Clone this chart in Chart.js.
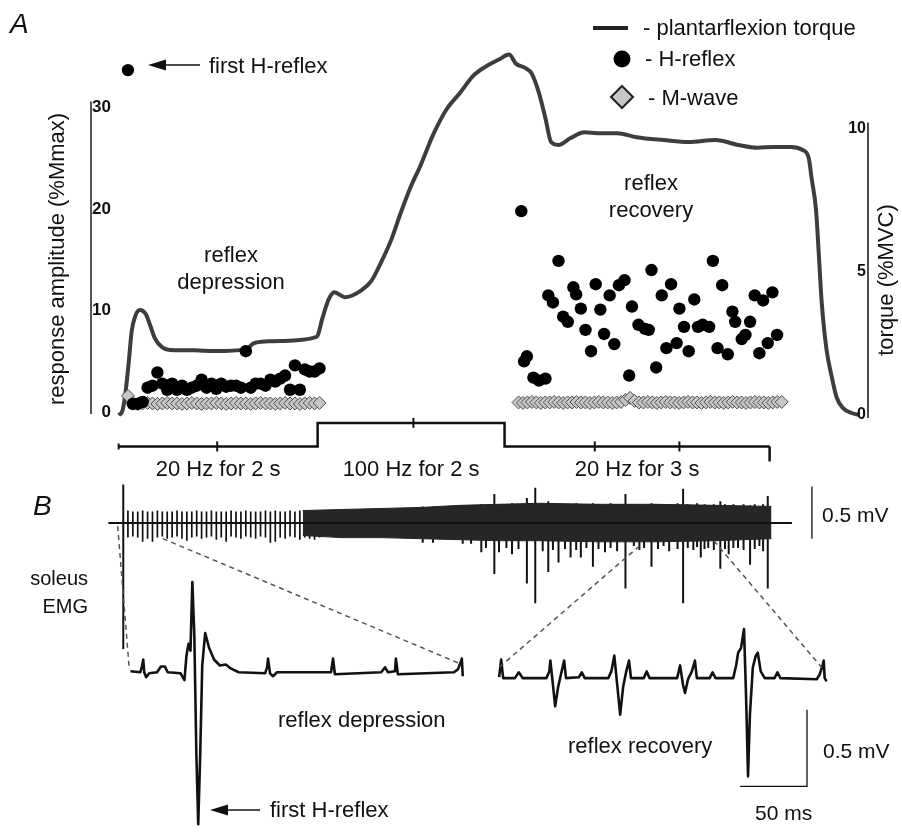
<!DOCTYPE html>
<html>
<head>
<meta charset="utf-8">
<script src="https://cdn.jsdelivr.net/npm/chart.js@4.4.1/dist/chart.umd.min.js"></script>
<style>
  html, body { margin: 0; padding: 0; background: #fff; }
  canvas { display: block; }
</style>
</head>
<body>
<canvas id="fig" width="902" height="833"></canvas>
<script>
const W = 902, H = 833;
const INK = '#111';
const FONT = '"Liberation Sans", Arial, sans-serif';
const NARROW = '"Liberation Sans Narrow", "Liberation Sans", Arial, sans-serif';

// ---- panel A ----
// plantarflexion torque (time in s from train onset, %MVC)
const torqueT = [0, 0.04, 0.07, 0.11, 0.14, 0.18, 0.23, 0.29, 0.34, 0.39, 0.47, 0.60, 0.81, 1.03, 1.37, 1.45, 1.61, 1.87, 2.11, 2.14,
  2.19, 2.26, 2.32, 2.43, 2.61, 2.72, 2.82, 2.93, 3.03, 3.14, 3.25, 3.38, 3.53, 3.67, 3.81, 3.95, 4.09, 4.20, 4.27, 4.38,
  4.44, 4.52, 4.59, 4.65, 4.73, 4.86, 5.01, 5.15, 5.36, 5.57, 5.86, 6.13, 6.42, 6.66, 6.87, 7.05, 7.23, 7.35, 7.42, 7.45,
  7.50, 7.53, 7.56, 7.61, 7.67, 7.72, 7.79, 7.88, 7.97];
const torque = [0, 0.14, 0.68, 1.88, 2.91, 3.46, 3.66, 3.53, 3.12, 2.67, 2.36, 2.26, 2.26, 2.23, 2.29, 2.50, 2.57, 2.60, 2.71, 2.77,
  3.36, 4.04, 4.28, 4.11, 4.35, 4.69, 5.31, 6.10, 7.02, 7.95, 8.73, 9.76, 10.68, 11.23, 11.82, 12.16, 12.40, 12.57, 12.26, 12.09,
  11.92, 11.23, 10.34, 9.52, 9.42, 9.66, 9.86, 9.83, 9.83, 9.69, 9.59, 9.52, 9.59, 9.42, 9.32, 9.35, 9.35, 9.25, 8.97, 8.29,
  7.12, 5.55, 3.94, 2.33, 1.30, 0.62, 0.24, 0.07, 0];

// first 20 Hz train: one response per stimulus (%Mmax)
const depFirst = 0.10, depLast = 2.16;
const depH = [33.7, 0.8, 0.8, 1.0, 2.4, 2.6, 3.9, 2.8, 2.2, 2.8, 2.2, 2.6, 2.2, 2.4, 2.6, 3.2, 2.4, 2.8, 2.3, 2.8,
  2.5, 2.6, 2.6, 2.4, 6.0, 2.4, 2.8, 2.8, 2.6, 3.2, 3.0, 3.3, 3.6, 2.2, 4.6, 2.2, 4.2, 4.0, 4.0, 4.3];
const depM = [1.6, 0.9, 0.8, 0.85, 0.9, 0.85, 0.8, 0.85, 0.9, 0.85, 0.85, 0.8, 0.85, 0.9, 0.85, 0.8, 0.85, 0.85, 0.9, 0.85,
  0.8, 0.85, 0.9, 0.85, 0.85, 0.8, 0.85, 0.9, 0.85, 0.85, 0.8, 0.85, 0.9, 0.85, 0.85, 0.8, 0.85, 0.9, 0.85, 0.9];

// second 20 Hz train (after the 100 Hz burst)
const recHT = [4.33, 4.36, 4.39, 4.46, 4.52, 4.59, 4.62, 4.67, 4.73, 4.78, 4.83, 4.89, 4.92, 4.97, 5.02, 5.08, 5.13, 5.18, 5.22, 5.28,
  5.33, 5.38, 5.44, 5.49, 5.52, 5.59, 5.66, 5.70, 5.73, 5.78, 5.84, 5.89, 5.94, 6.00, 6.03, 6.08, 6.13, 6.19, 6.23, 6.28,
  6.35, 6.39, 6.44, 6.49, 6.55, 6.60, 6.63, 6.70, 6.74, 6.79, 6.84, 6.89, 6.93, 6.98, 7.03, 7.08];
const recH = [19.8, 5.0, 5.5, 3.4, 3.1, 3.3, 11.5, 10.8, 14.9, 9.4, 8.9, 12.3, 11.6, 10.2, 8.1, 6.0, 12.6, 10.1, 7.7, 11.5,
  6.7, 12.5, 13.0, 3.6, 10.4, 8.6, 8.2, 8.1, 14.0, 4.4, 11.5, 6.3, 12.6, 6.8, 10.2, 8.4, 6.0, 11.1, 8.4, 8.6,
  8.4, 14.9, 6.3, 12.5, 5.7, 9.9, 8.9, 7.2, 7.6, 8.9, 11.5, 5.8, 11.0, 6.8, 11.8, 7.6];
const recFirst = 4.30, recLast = 7.13;
const recM = [0.95, 0.9, 0.95, 1.0, 0.95, 0.9, 0.95, 0.95, 1.0, 0.95, 0.9, 0.95, 0.95, 1.0, 0.95, 0.95, 0.9, 0.95, 1.0, 0.95,
  0.95, 0.9, 0.95, 1.0, 1.2, 1.4, 1.1, 0.95, 0.95, 1.0, 0.95, 0.9, 0.95, 1.0, 0.95, 0.95, 0.9, 0.95, 1.0, 0.95,
  0.95, 0.9, 0.95, 1.0, 0.95, 0.95, 0.9, 0.95, 1.0, 0.95, 0.95, 0.9, 0.95, 1.0, 0.95, 0.95, 0.9, 0.95, 1.0, 1.0];

// stimulation protocol
const stimT = [0, 2.14, 4.15, 7.0];
const stimHz = [20, 100, 20, 20];
const stimMarks = [1.06, 3.17, 5.12, 6.03];
const stimLabels = ['20 Hz for 2 s', '100 Hz for 2 s', '20 Hz for 3 s'];
const ampTicks = [0, 10, 20, 30];
const torqueTicks = [0, 5, 10];

// ---- panel B ----
// raw soleus EMG (mV): stimulus-locked deflections of the first train
const combHi = [0.12, 0.11, 0.11, 0.12, 0.11, 0.11, 0.12, 0.11, 0.11, 0.11, 0.12, 0.11, 0.11, 0.11, 0.12, 0.11, 0.11, 0.12, 0.11, 0.11,
  0.11, 0.12, 0.11, 0.11, 0.12, 0.11, 0.11, 0.11, 0.12, 0.11, 0.12, 0.11, 0.11, 0.12, 0.11, 0.12, 0.12, 0.11, 0.12, 0.12];
const combLo = [-0.14, -0.13, -0.14, -0.18, -0.15, -0.18, -0.14, -0.13, -0.15, -0.14, -0.13, -0.15, -0.17, -0.14, -0.13, -0.15, -0.14, -0.13, -0.16, -0.14,
  -0.18, -0.13, -0.14, -0.15, -0.13, -0.14, -0.15, -0.13, -0.14, -0.19, -0.18, -0.14, -0.15, -0.13, -0.14, -0.16, -0.14, -0.15, -0.16, -0.14];
// envelope of the dense part of the record
const bandT = [1.98, 2.40, 2.82, 3.25, 3.67, 4.09, 4.52, 5.15, 5.78, 6.42, 7.02];
const bandHi = [0.12, 0.13, 0.14, 0.15, 0.17, 0.18, 0.19, 0.18, 0.18, 0.17, 0.16];
const bandLo = [-0.12, -0.14, -0.14, -0.15, -0.16, -0.17, -0.17, -0.18, -0.18, -0.17, -0.15];
// individual large deflections
const spkT = [0.05, 3.27, 3.38, 3.70, 3.79, 3.90, 3.95, 4.04, 4.09, 4.17, 4.23, 4.30, 4.39, 4.48, 4.56, 4.62, 4.67, 4.73, 4.80, 4.86, 4.92,
  4.97, 5.03, 5.10, 5.16, 5.23, 5.29, 5.36, 5.45, 5.54, 5.60, 5.65, 5.73, 5.80, 5.86, 5.92, 6.01, 6.07, 6.12, 6.18, 6.22,
  6.26, 6.30, 6.34, 6.40, 6.47, 6.52, 6.56, 6.61, 6.66, 6.72, 6.79, 6.84, 6.89, 6.93, 6.98];
const spkHi = [0.37, 0.16, 0.16, 0.17, 0.17, 0.18, 0.17, 0.28, 0.18, 0.18, 0.19, 0.18, 0.24, 0.34, 0.19, 0.21, 0.18, 0.16, 0.18, 0.16, 0.19,
  0.16, 0.18, 0.19, 0.18, 0.16, 0.19, 0.18, 0.28, 0.14, 0.18, 0.14, 0.19, 0.18, 0.16, 0.18, 0.19, 0.33, 0.18, 0.16, 0.19,
  0.16, 0.18, 0.16, 0.18, 0.21, 0.18, 0.16, 0.18, 0.16, 0.18, 0.17, 0.18, 0.16, 0.18, 0.26];
const spkLo = [-1.21, -0.19, -0.19, -0.20, -0.20, -0.28, -0.24, -0.49, -0.28, -0.24, -0.30, -0.25, -0.58, -0.77, -0.27, -0.47, -0.26, -0.38, -0.25, -0.33, -0.26,
  -0.33, -0.24, -0.42, -0.25, -0.28, -0.24, -0.27, -0.63, -0.22, -0.26, -0.24, -0.42, -0.25, -0.22, -0.27, -0.25, -0.77, -0.24, -0.26, -0.23,
  -0.33, -0.25, -0.24, -0.26, -0.44, -0.25, -0.30, -0.24, -0.24, -0.26, -0.40, -0.25, -0.22, -0.27, -0.63];
const emgSpan = [-0.11, 7.24];

// expanded sweeps (ms, mV)
const depSweepT = [0, 7.4, 8.8, 9.6, 10.3, 11.8, 14.0, 19.9, 22.8, 25.7, 27.9, 37.5, 40.4, 41.9, 43.4, 44.9, 46.3, 47.8, 49.3, 50.7,
  52.2, 53.7, 55.9, 58.8, 62.5, 66.9, 71.3, 75.0, 80.9, 100.7, 102.2, 102.9, 104.4, 106.6, 109.6, 150.0, 151.5, 152.9, 187.5, 190.4,
  192.6, 197.8, 198.5, 200.0, 241.9, 244.9, 247.1, 247.8, 248.5];
const depSweep = [0, -0.006, 0.038, 0.077, -0.006, -0.038, -0.013, -0.006, 0.032, 0.032, -0.006, -0.013, -0.058, 0.103, 0.179, 0.135, 0.583, 0.231, -0.538, -1.0,
  -0.538, 0.038, 0.25, 0.154, 0.077, 0.038, 0.045, 0.019, -0.006, -0.013, 0.026, 0.083, -0.013, -0.032, -0.006, -0.006, 0.083, -0.019, -0.006, 0.026,
  -0.006, 0, 0.083, -0.019, -0.006, 0.013, 0.064, 0.083, -0.032];
const recSweepT = [-1.5, 0, 1.5, 10.3, 13.2, 16.2, 33.8, 36.0, 36.8, 38.2, 40.4, 42.6, 44.9, 47.1, 48.5, 58.1, 60.3, 62.5, 80.1, 82.4,
  84.6, 86.8, 89.0, 91.2, 93.4, 95.6, 97.1, 106.6, 108.8, 111.0, 131.6, 133.8, 136.0, 137.5, 139.7, 142.6, 144.9, 146.3, 155.9, 158.1,
  160.3, 173.5, 175.7, 177.2, 179.4, 181.6, 183.1, 184.6, 186.0, 188.2, 190.4, 191.9, 194.1, 197.1, 204.4, 206.6, 208.8, 236.0, 238.2, 240.4,
  241.2, 241.9, 243.4];
const recSweep = [0, 0.115, -0.006, -0.006, 0.032, -0.006, -0.006, 0.038, 0.109, -0.006, -0.19, -0.064, 0.026, 0.109, -0.006, 0, 0.032, -0.006, -0.006, 0.038,
  0.141, -0.051, -0.244, -0.064, 0.032, 0.109, -0.006, -0.006, 0.038, -0.006, -0.006, 0.077, -0.051, -0.103, -0.013, 0.038, 0.109, -0.006, -0.006, 0.032,
  -0.006, -0.006, 0.077, 0.160, 0.192, 0.314, -0.115, -0.647, -0.244, 0.064, 0.141, 0.160, 0.038, -0.006, -0.006, 0.032, -0.006, -0.013, 0.019, 0.077,
  0.109, -0.006, -0.026];

// ---- helpers ----
const xy = (xs, ys) => xs.map((x, i) => ({ x, y: ys[i] }));
const train = (t0, t1, n) => Array.from({ length: n }, (_, i) => t0 + (t1 - t0) * i / (n - 1));
const ticks = (ts, lo, hi) => ts.flatMap((t, i) => [{ x: t, y: lo[i] }, { x: t, y: hi[i] }, { x: t, y: null }]);

// scale bounds that put value v0 at pixel p0 and v1 at pixel p1
function span(v0, p0, v1, p1, size) {
  const k = (p1 - p0) / (v1 - v0);
  const a = v0 - p0 / k, b = v0 + (size - p0) / k;
  return { min: Math.min(a, b), max: Math.max(a, b) };
}
const hidden = (ext) => Object.assign({ type: 'linear', display: false }, ext);

const depTimes = train(depFirst, depLast, depH.length);
const recMTimes = train(recFirst, recLast, recM.length);

const line = (data, x, y, extra) => Object.assign({
  type: 'line', data, xAxisID: x, yAxisID: y, borderColor: INK, borderWidth: 2.2,
  pointRadius: 0, tension: 0, fill: false, spanGaps: false
}, extra);

const datasets = [
  // H-reflex
  line(xy(depTimes, depH), 'x', 'yA', { showLine: false, pointRadius: 6.2, pointBackgroundColor: '#000', pointBorderWidth: 0, order: 1 }),
  line(xy(recHT, recH), 'x', 'yA', { showLine: false, pointRadius: 6.2, pointBackgroundColor: '#000', pointBorderWidth: 0, order: 1 }),
  // M-wave
  line(xy(depTimes, depM), 'x', 'yA', { showLine: false, pointStyle: 'rectRot', pointRadius: 6.5, pointBackgroundColor: '#c6c6c6', pointBorderColor: '#4d4d4d', pointBorderWidth: 1, order: 2 }),
  line(xy(recMTimes, recM), 'x', 'yA', { showLine: false, pointStyle: 'rectRot', pointRadius: 6.5, pointBackgroundColor: '#c6c6c6', pointBorderColor: '#4d4d4d', pointBorderWidth: 1, order: 2 }),
  // torque
  line(xy(torqueT, torque), 'x', 'yT', { borderColor: '#3d3d3d', borderWidth: 4, cubicInterpolationMode: 'monotone', borderJoinStyle: 'round', order: 3 }),
  // stimulation frequency
  line(xy(stimT, stimHz), 'x', 'yS', { stepped: 'before', borderWidth: 2.5, order: 3 }),
  // raw EMG
  line(xy(emgSpan, [0, 0]), 'x', 'yE', { borderWidth: 2, order: 4 }),
  line(xy(bandT, bandHi), 'x', 'yE', { borderWidth: 1, borderColor: '#222', fill: '+1', backgroundColor: '#262626', order: 4 }),
  line(xy(bandT, bandLo), 'x', 'yE', { borderWidth: 1, borderColor: '#222', order: 4 }),
  line(ticks(depTimes, combLo, combHi), 'x', 'yE', { borderWidth: 1.7, order: 4 }),
  line(ticks(spkT, spkLo, spkHi), 'x', 'yE', { borderWidth: 2, order: 4 }),
  line([{ x: 7.455, y: -0.15 }, { x: 7.455, y: 0.35 }], 'x', 'yE', { borderWidth: 1.3, order: 4 }),
  // expanded sweeps
  line(xy(depSweepT, depSweep), 'xL', 'yL', { borderWidth: 2.6, borderJoinStyle: 'round', order: 4 }),
  line(xy(recSweepT, recSweep), 'xR', 'yR', { borderWidth: 2.6, borderJoinStyle: 'round', order: 4 }),
  line([{ x: 178.7, y: -0.712 }, { x: 228.7, y: -0.712 }, { x: 228.7, y: -0.212 }], 'xR', 'yR', { borderWidth: 1.3, order: 4 })
];

function text(ctx, str, x, y, font, align = 'left', base = 'alphabetic', rot = 0) {
  ctx.save();
  ctx.translate(x, y);
  if (rot) ctx.rotate(rot);
  ctx.font = font;
  ctx.textAlign = align;
  ctx.textBaseline = base;
  ctx.fillText(str, 0, 0);
  ctx.restore();
}
function seg(ctx, x0, y0, x1, y1, w, color = INK, dash = []) {
  ctx.save();
  ctx.strokeStyle = color;
  ctx.lineWidth = w;
  ctx.setLineDash(dash);
  ctx.beginPath();
  ctx.moveTo(x0, y0);
  ctx.lineTo(x1, y1);
  ctx.stroke();
  ctx.restore();
}
function arrowLeft(ctx, tip, tail, y) {
  seg(ctx, tip + 12, y, tail, y, 1.6);
  ctx.beginPath();
  ctx.moveTo(tip, y);
  ctx.lineTo(tip + 18, y - 5.5);
  ctx.lineTo(tip + 18, y + 5.5);
  ctx.closePath();
  ctx.fill();
}
const hzAt = (t) => {
  let v = stimHz[0];
  for (let i = 1; i < stimT.length; i++) if (t >= stimT[i]) v = stimHz[i];
  return v;
};

const overlay = {
  id: 'overlay',
  afterDatasetsDraw(chart) {
    const { ctx, scales: s } = chart;
    ctx.save();
    ctx.fillStyle = INK;

    // response amplitude axis (left) and torque axis (right)
    seg(ctx, 91, s.yA.getPixelForValue(30.6), 91, s.yA.getPixelForValue(-0.2), 2, '#555');
    ampTicks.forEach(v => text(ctx, String(v), 111, s.yA.getPixelForValue(v), 'bold 17px ' + NARROW, 'right', 'middle'));
    seg(ctx, 868, s.yT.getPixelForValue(10.2), 868, s.yT.getPixelForValue(-0.1), 1.5);
    torqueTicks.forEach(v => text(ctx, String(v), 866, s.yT.getPixelForValue(v), 'bold 16px ' + NARROW, 'right', 'middle'));
    text(ctx, 'response amplitude (%Mmax)', 58, 259, '22px ' + FONT, 'center', 'middle', -Math.PI / 2);
    text(ctx, 'torque (%MVC)', 887, 280, '22px ' + FONT, 'center', 'middle', -Math.PI / 2);

    // stimulation protocol marks and labels
    const t0 = s.x.getPixelForValue(stimT[0]);
    const tEnd = s.x.getPixelForValue(stimT[stimT.length - 1]);
    const base = s.yS.getPixelForValue(stimHz[0]);
    seg(ctx, t0, base - 3, t0, base + 3, 2);
    seg(ctx, tEnd, base, tEnd, base + 15, 2.5);
    stimMarks.forEach(t => {
      const px = s.x.getPixelForValue(t), py = s.yS.getPixelForValue(hzAt(t));
      seg(ctx, px, py - 5, px, py + 5, 2);
    });
    for (let i = 0; i < stimLabels.length; i++) {
      const mid = s.x.getPixelForValue((stimT[i] + stimT[i + 1]) / 2);
      text(ctx, stimLabels[i], mid, 476, '22px ' + FONT, 'center');
    }

    // panel letters and labels
    text(ctx, 'A', 10, 33, 'italic 28px ' + FONT);
    text(ctx, 'B', 33, 515, 'italic 28px ' + FONT);
    arrowLeft(ctx, 148, 200, 65);
    text(ctx, 'first H-reflex', 209, 73, '22px ' + FONT);
    text(ctx, 'reflex', 231, 262, '22px ' + FONT, 'center');
    text(ctx, 'depression', 231, 289, '22px ' + FONT, 'center');
    text(ctx, 'reflex', 651, 190, '22px ' + FONT, 'center');
    text(ctx, 'recovery', 651, 217, '22px ' + FONT, 'center');

    // key
    seg(ctx, 593, 28, 628, 28, 4, '#222');
    text(ctx, '- plantarflexion torque', 643, 35, '22px ' + FONT);
    ctx.beginPath(); ctx.arc(622, 59, 8.5, 0, Math.PI * 2); ctx.fillStyle = '#000'; ctx.fill();
    ctx.fillStyle = INK;
    text(ctx, '- H-reflex', 645, 66, '22px ' + FONT);
    ctx.beginPath();
    ctx.moveTo(622, 86); ctx.lineTo(633, 97); ctx.lineTo(622, 108); ctx.lineTo(611, 97); ctx.closePath();
    ctx.fillStyle = '#c6c6c6'; ctx.fill();
    ctx.lineWidth = 2; ctx.strokeStyle = '#222'; ctx.stroke();
    ctx.fillStyle = INK;
    text(ctx, '- M-wave', 648, 105, '22px ' + FONT);

    // links from the raw record to the expanded sweeps
    const dash = [5, 4];
    const link = (t, v, xs, ys, ms, mv) =>
      seg(ctx, s.x.getPixelForValue(t), s.yE.getPixelForValue(v), s[xs].getPixelForValue(ms), s[ys].getPixelForValue(mv), 1.5, '#555', dash);
    link(-0.01, -0.03, 'xL', 'yL', -1, 0.03);
    link(0.476, -0.15, 'xL', 'yL', 247.8, 0.045);
    link(5.60, -0.22, 'xR', 'yR', -1.5, 0.064);
    link(6.40, -0.17, 'xR', 'yR', 239.7, 0.064);

    // panel B text
    text(ctx, '0.5 mV', 822, 522, '21px ' + FONT);
    text(ctx, 'soleus', 88, 585, '20px ' + FONT, 'right');
    text(ctx, 'EMG', 88, 613, '20px ' + FONT, 'right');
    text(ctx, 'reflex depression', 278, 727, '22px ' + FONT);
    arrowLeft(ctx, 210, 260, 810);
    text(ctx, 'first H-reflex', 270, 817, '22px ' + FONT);
    text(ctx, 'reflex recovery', 568, 753, '22px ' + FONT);
    text(ctx, '0.5 mV', 823, 758, '21px ' + FONT);
    text(ctx, '50 ms', 755, 820, '21px ' + FONT);
    ctx.restore();
  }
};

new Chart(document.getElementById('fig'), {
  type: 'line',
  data: { datasets },
  options: {
    responsive: false,
    devicePixelRatio: 1,
    animation: false,
    events: [],
    layout: { padding: 0 },
    plugins: { legend: { display: false }, tooltip: { enabled: false } },
    scales: {
      x: hidden(span(0, 113, 7, 775, W)),
      yA: hidden(span(0, 412, 30, 102, H)),
      yT: hidden(span(0, 415, 10, 123, H)),
      yS: hidden(span(20, 447, 100, 423, H)),
      yE: hidden(span(0, 525, 0.5, 472, H)),
      xL: hidden(span(0, 125, 50, 193, W)),
      yL: hidden(span(0, 676, 0.5, 598, H)),
      xR: hidden(span(0, 502, 50, 570, W)),
      yR: hidden(span(0, 682, 0.5, 604, H))
    }
  },
  plugins: [overlay]
});
</script>
</body>
</html>
